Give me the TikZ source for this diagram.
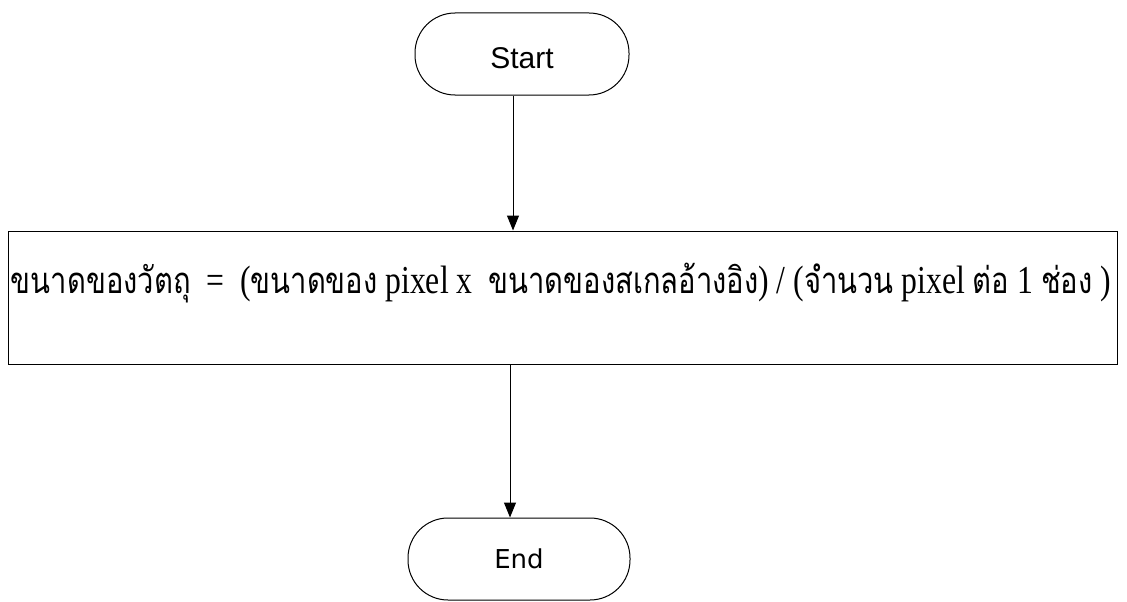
\documentclass[tikz,border=0pt]{standalone}
\usepackage{fontspec}
\setmainfont{Liberation Serif}
\newfontfamily\thaifont[Script=Thai]{Loma}
\newfontfamily\startfont{Liberation Sans}
\newfontfamily\endfont{DejaVu Sans}
\usetikzlibrary{arrows.meta}
\newcommand{\thx}[1]{{\thaifont\fontsize{23}{26}\selectfont #1}}
\tikzset{
  terminal/.style={draw, line width=1pt, rounded corners=40pt, inner sep=0pt},
  procbox/.style={draw, line width=1pt, inner sep=0pt},
  flowarrow/.style={line width=1pt, -{Triangle[length=15pt,width=12pt]}}
}
\begin{document}
\begin{tikzpicture}[x=1pt,y=-1pt]
\useasboundingbox (0,0) rectangle (1127,602);
\clip (0,0) rectangle (1127,602);
\node[terminal, minimum width=214pt, minimum height=82pt] (start) at (522,54) {};
\node[font=\startfont\fontsize{30}{30}\selectfont] (starttxt) at (522,58) {Start};
\node[procbox, minimum width=1109pt, minimum height=133pt] (box) at (562.5,297.5) {};
\node[inner sep=0pt] (lbl) at (561,283) {\scalebox{1}[1.25]{\resizebox{1100pt}{!}{\fontsize{25}{28}\selectfont\thx{ขนาดของวัตถุ}\enspace=\enspace(\thx{ขนาดของ} pixel x\enspace\thx{ขนาดของสเกลอ้างอิง}) / (\thx{จำนวน} pixel \thx{ต่อ} 1 \thx{ช่อง} )}}};
\node[terminal, minimum width=222pt, minimum height=82pt] (end) at (519,559) {};
\node[font=\endfont\fontsize{26}{26}\selectfont] (endtxt) at (519,559) {End};
\draw[flowarrow] ([xshift=-9pt]start.south) -- ([xshift=-9pt]start.south |- box.north);
\draw[flowarrow] ([xshift=-9pt]end.north |- box.south) -- ([xshift=-9pt]end.north);
\end{tikzpicture}
\end{document}
